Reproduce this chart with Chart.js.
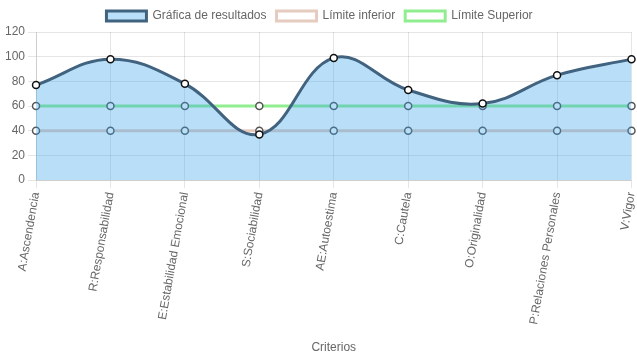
<!DOCTYPE html>
<html>
<head>
<meta charset="utf-8">
<script src="https://cdn.jsdelivr.net/npm/chart.js@4"></script>
<style>
  html, body { margin: 0; padding: 0; background: #fff; }
  #wrap { width: 637px; height: 359px; }
</style>
</head>
<body>
<div id="wrap"><canvas id="chart"></canvas></div>
<script>
const criterios = ["A:Ascendencia", "R:Responsabilidad", "E:Estabilidad Emocional", "S:Sociabilidad",
  "AE:Autoestima", "C:Cautela", "O:Originalidad", "P:Relaciones Personales", "V:Vigor"];
const resultados = [77, 98, 78, 37, 99, 73, 62, 85, 98];
const limiteInferior = [40, 40, 40, 40, 40, 40, 40, 40, 40];
const limiteSuperior = [60, 60, 60, 60, 60, 60, 60, 60, 60];

Chart.defaults.font.family = "'Liberation Sans', Arial, sans-serif";
Chart.defaults.font.size = 12;
Chart.defaults.color = "#666";

new Chart(document.getElementById("chart"), {
  type: "line",
  data: {
    labels: criterios,
    datasets: [
      {
        label: "Gráfica de resultados",
        data: resultados,
        borderColor: "#41637f",
        backgroundColor: "rgba(54,162,235,0.35)",
        borderWidth: 3,
        tension: 0.4,
        fill: "origin",
        pointRadius: 3.5,
        pointBackgroundColor: "#fff",
        pointBorderColor: "#111",
        pointBorderWidth: 1.5
      },
      {
        label: "Límite inferior",
        data: limiteInferior,
        borderColor: "#e6cbbf",
        backgroundColor: "#fff",
        borderWidth: 3,
        fill: false,
        pointRadius: 3.5,
        pointBackgroundColor: "#fff",
        pointBorderColor: "#555",
        pointBorderWidth: 1.5
      },
      {
        label: "Límite Superior",
        data: limiteSuperior,
        borderColor: "#90ee90",
        backgroundColor: "#fff",
        borderWidth: 3,
        fill: false,
        pointRadius: 3.5,
        pointBackgroundColor: "#fff",
        pointBorderColor: "#555",
        pointBorderWidth: 1.5
      }
    ]
  },
  options: {
    responsive: true,
    maintainAspectRatio: false,
    animation: false,
    layout: { padding: { left: 2 } },
    plugins: {
      legend: {
        labels: { boxWidth: 40, boxHeight: 10, color: "#666" }
      },
      tooltip: { enabled: false }
    },
    scales: {
      x: {
        title: { display: true, text: "Criterios", color: "#666", padding: { top: 12, bottom: 4 } },
        grid: { color: "rgba(0,0,0,0.1)" },
        ticks: { maxRotation: 80, minRotation: 80 },
        afterFit: (scale) => { scale.paddingRight = 4; scale.paddingLeft = 0; }
      },
      y: {
        min: 0,
        max: 120,
        ticks: { stepSize: 20 },
        grid: { color: "rgba(0,0,0,0.1)" }
      }
    }
  }
});
</script>
</body>
</html>
